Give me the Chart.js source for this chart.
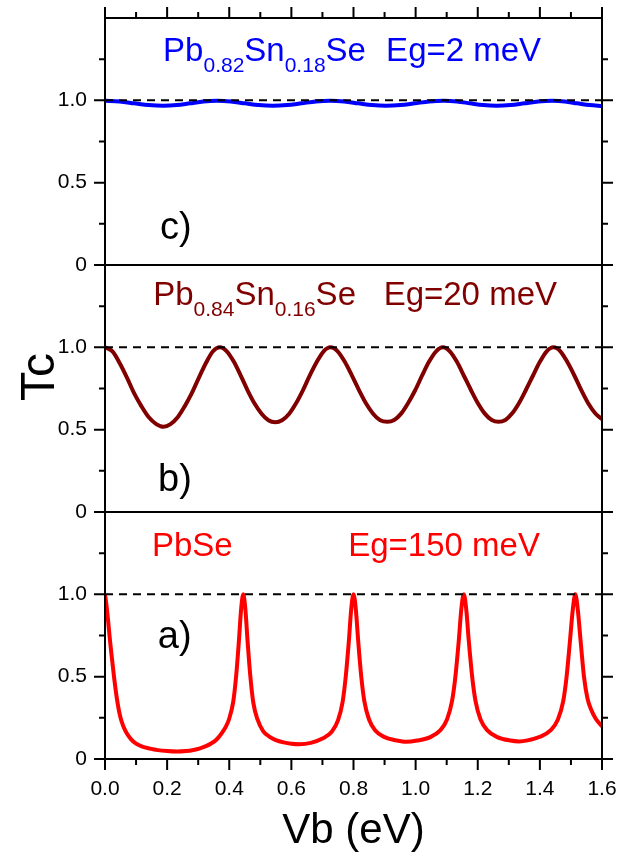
<!doctype html>
<html>
<head>
<meta charset="utf-8">
<script src="https://cdn.jsdelivr.net/npm/chart.js"></script>
<style>
html, body { margin: 0; padding: 0; background: #fff; }
#chart { display: block; }
</style>
</head>
<body>
<canvas id="chart" width="628" height="859"></canvas>
<script>
	// a) PbSe, Eg=150 meV
	var vbA = [0, 0.005, 0.01, 0.015, 0.02, 0.029, 0.038, 0.05, 0.06, 0.07, 0.085, 0.1, 0.12, 0.145, 0.17, 0.2, 0.231, 0.26, 0.285, 0.306, 0.325, 0.344, 0.36, 0.376, 0.39, 0.399, 0.413, 0.422, 0.431, 0.438, 0.445,
		0.452, 0.459, 0.468, 0.477, 0.491, 0.509, 0.53, 0.55, 0.575, 0.6, 0.625,
		0.6625, 0.7, 0.73, 0.75, 0.765, 0.775, 0.785, 0.7925, 0.8,
		0.8075, 0.815, 0.825, 0.835, 0.85, 0.87, 0.9, 0.9375, 0.97,
		1.005, 1.047, 1.079, 1.101, 1.117, 1.128, 1.139, 1.147, 1.155,
		1.163, 1.171, 1.182, 1.193, 1.209, 1.231, 1.263, 1.305, 1.333,
		1.36, 1.4, 1.435, 1.458, 1.475, 1.486, 1.497, 1.506, 1.514,
		1.522, 1.531, 1.542, 1.553, 1.565, 1.578, 1.59, 1.6];
	var tcA = [1.0, 0.93, 0.84, 0.74, 0.65, 0.5, 0.37, 0.25, 0.195, 0.157, 0.118, 0.093, 0.075, 0.063, 0.054, 0.048, 0.045, 0.048, 0.055, 0.065, 0.078, 0.097, 0.12, 0.157, 0.2, 0.24, 0.35, 0.5, 0.715, 0.905, 1.0,
		0.907, 0.715, 0.5, 0.347, 0.24, 0.17, 0.135, 0.115, 0.101, 0.093, 0.09,
		0.098, 0.124, 0.165, 0.234, 0.347, 0.5, 0.715, 0.907, 1.0,
		0.908, 0.72, 0.5, 0.35, 0.24, 0.173, 0.133, 0.113, 0.104,
		0.112, 0.133, 0.174, 0.24, 0.35, 0.5, 0.72, 0.908, 1.0,
		0.908, 0.72, 0.5, 0.35, 0.24, 0.174, 0.133, 0.112, 0.107,
		0.113, 0.135, 0.175, 0.24, 0.35, 0.5, 0.72, 0.908, 1.0,
		0.908, 0.72, 0.5, 0.37, 0.3, 0.25, 0.22, 0.198];

	// b) Pb0.84Sn0.16Se, Eg=20 meV
	var vbB = [0, 0.024, 0.047, 0.071, 0.094, 0.118, 0.141, 0.165, 0.188,
		0.211, 0.234, 0.256, 0.279, 0.302, 0.325, 0.347, 0.37,
		0.392, 0.415, 0.437, 0.459, 0.481, 0.504, 0.526, 0.548,
		0.57, 0.593, 0.615, 0.637, 0.659, 0.682, 0.704, 0.726,
		0.749, 0.772, 0.795, 0.818, 0.84, 0.863, 0.886, 0.909,
		0.931, 0.954, 0.976, 0.999, 1.021, 1.043, 1.066, 1.088,
		1.11, 1.133, 1.155, 1.178, 1.2, 1.222, 1.245, 1.267,
		1.289, 1.311, 1.333, 1.355, 1.378, 1.4, 1.422, 1.444,
		1.466, 1.488, 1.511, 1.533, 1.555, 1.578, 1.6];
	var tcB = [1.0, 0.975, 0.905, 0.815, 0.72, 0.64, 0.575, 0.534, 0.517,
		0.534, 0.575, 0.64, 0.72, 0.815, 0.905, 0.975, 1.0,
		0.976, 0.912, 0.828, 0.739, 0.66, 0.597, 0.557, 0.545,
		0.557, 0.597, 0.66, 0.739, 0.828, 0.912, 0.976, 1.0,
		0.976, 0.912, 0.828, 0.739, 0.66, 0.597, 0.557, 0.548,
		0.559, 0.599, 0.662, 0.741, 0.829, 0.912, 0.976, 1.0,
		0.976, 0.912, 0.829, 0.741, 0.662, 0.599, 0.559, 0.548,
		0.559, 0.599, 0.662, 0.741, 0.829, 0.912, 0.976, 1.0,
		0.976, 0.912, 0.829, 0.741, 0.662, 0.6, 0.564];

	// c) Pb0.82Sn0.18Se, Eg=2 meV
	var vbC = [0, 0.047, 0.094, 0.141, 0.188, 0.231, 0.274, 0.317, 0.36,
		0.405, 0.45, 0.495, 0.54, 0.586, 0.633, 0.679, 0.725,
		0.77, 0.815, 0.86, 0.905, 0.951, 0.998, 1.044, 1.09,
		1.133, 1.175, 1.218, 1.26, 1.305, 1.35, 1.395, 1.44,
		1.48, 1.52, 1.56, 1.6];
	var tcC = [0.997, 0.993, 0.982, 0.971, 0.967, 0.971, 0.982, 0.993, 0.997,
		0.993, 0.982, 0.971, 0.967, 0.971, 0.982, 0.993, 0.997,
		0.993, 0.982, 0.971, 0.967, 0.971, 0.982, 0.993, 0.997,
		0.993, 0.982, 0.971, 0.967, 0.971, 0.982, 0.993, 0.997,
		0.993, 0.982, 0.971, 0.966];

	// dashed Tc = 1 line
	var refX = [0, 1.6];
	var refY = [1, 1];

	var FONT = "'Liberation Sans', Arial, sans-serif";

	function pts(xs, ys) {
		return xs.map(function (x, i) { return {x: x, y: ys[i]}; });
	}

	// text labels, anchored in data units of each panel
	var notes = [
		{axis: 'yC', x: 0.187, y: 1.24, color: '#0000ff', parts: [['Pb'], ['0.82', 1], ['Sn'], ['0.18', 1], ['Se']]},
		{axis: 'yC', x: 0.905, y: 1.24, color: '#0000ff', parts: [['Eg=2 meV']]},
		{axis: 'yC', x: 0.177, y: 0.16, color: '#000', size: 38, parts: [['c)']]},
		{axis: 'yB', x: 0.155, y: 1.257, color: '#800000', parts: [['Pb'], ['0.84', 1], ['Sn'], ['0.16', 1], ['Se']]},
		{axis: 'yB', x: 0.897, y: 1.257, color: '#800000', parts: [['Eg=20 meV']]},
		{axis: 'yB', x: 0.171, y: 0.13, color: '#000', size: 38, parts: [['b)']]},
		{axis: 'yA', x: 0.151, y: 1.233, color: '#ff0000', parts: [['PbSe']]},
		{axis: 'yA', x: 0.783, y: 1.233, color: '#ff0000', parts: [['Eg=150 meV']]},
		{axis: 'yA', x: 0.17, y: 0.674, color: '#000', size: 38, parts: [['a)']]}
	];

	var frame = {
		id: 'frame',
		afterDraw: function (chart) {
			var ctx = chart.ctx, a = chart.chartArea, sc = chart.scales;
			ctx.save();
			ctx.strokeStyle = '#000';
			ctx.lineWidth = 2;
			ctx.beginPath();
			ctx.rect(a.left, a.top, a.right - a.left, a.bottom - a.top);
			['yA', 'yB'].forEach(function (id) {
				var y = sc[id].getPixelForValue(1.5);
				ctx.moveTo(a.left, y);
				ctx.lineTo(a.right, y);
			});
			for (var i = 0; i <= 16; i++) {
				var px = sc.x.getPixelForValue(i / 10);
				var len = i % 2 ? 6 : 11;
				ctx.moveTo(px, a.bottom);
				ctx.lineTo(px, a.bottom + len);
				ctx.moveTo(px, a.top);
				ctx.lineTo(px, a.top - len);
			}
			['yA', 'yB', 'yC'].forEach(function (id) {
				for (var j = 0; j <= 5; j++) {
					var py = sc[id].getPixelForValue(j * 0.25);
					var l = j % 2 ? 6 : 11;
					ctx.moveTo(a.left, py);
					ctx.lineTo(a.left - l, py);
					ctx.moveTo(a.right, py);
					ctx.lineTo(a.right + l, py);
				}
			});
			ctx.stroke();

			ctx.textBaseline = 'alphabetic';
			ctx.textAlign = 'left';
			notes.forEach(function (n) {
				var x = sc.x.getPixelForValue(n.x);
				var y = sc[n.axis].getPixelForValue(n.y);
				var size = n.size || 33;
				ctx.fillStyle = n.color;
				n.parts.forEach(function (p) {
					var sub = p[1];
					ctx.font = (sub ? 21 : size) + 'px ' + FONT;
					ctx.fillText(p[0], x, y + (sub ? 11 : 0));
					x += ctx.measureText(p[0]).width;
				});
			});

			// y title
			ctx.save();
			ctx.translate(a.left - 64, sc.yB.getPixelForValue(0.82));
			ctx.rotate(-Math.PI / 2);
			ctx.textAlign = 'center';
			ctx.textBaseline = 'middle';
			ctx.fillStyle = '#000';
			ctx.font = '48px ' + FONT;
			ctx.fillText('Tc', 0, 0);
			ctx.restore();
			ctx.restore();
		}
	};

	function panelAxis() {
		return {
			type: 'linear',
			position: 'left',
			stack: 'tc',
			stackWeight: 1,
			min: 0,
			max: 1.5,
			grid: {display: false, drawTicks: false},
			border: {display: false},
			ticks: {
				stepSize: 0.5,
				autoSkip: false,
				padding: 18,
				color: '#000',
				font: {size: 21},
				callback: function (v) { return v === 0 ? '0' : (v >= 1.5 ? '' : v.toFixed(1)); }
			},
			afterFit: function (s) { s.width = 105; s.paddingTop = 0; s.paddingBottom = 0; }
		};
	}

	Chart.defaults.font.family = FONT;

	var chart = new Chart(document.getElementById('chart'), {
		type: 'line',
		data: {
			datasets: [
				{data: pts(refX, refY), yAxisID: 'yA', borderColor: '#000', borderWidth: 2, borderDash: [8, 6], order: 0},
				{data: pts(refX, refY), yAxisID: 'yB', borderColor: '#000', borderWidth: 2, borderDash: [8, 6], order: 0},
				{data: pts(refX, refY), yAxisID: 'yC', borderColor: '#000', borderWidth: 2, borderDash: [8, 6], order: 0},
				{data: pts(vbA, tcA), yAxisID: 'yA', borderColor: '#ff0000', borderWidth: 4, order: 1},
				{data: pts(vbB, tcB), yAxisID: 'yB', borderColor: '#800000', borderWidth: 4, order: 1},
				{data: pts(vbC, tcC), yAxisID: 'yC', borderColor: '#0000ff', borderWidth: 4, order: 1}
			]
		},
		options: {
			responsive: false,
			animation: false,
			events: [],
			layout: {padding: {left: 0, right: 26, top: 18, bottom: 0}},
			elements: {
				point: {radius: 0},
				line: {cubicInterpolationMode: 'monotone', fill: false}
			},
			plugins: {legend: {display: false}, tooltip: {enabled: false}},
			scales: {
				x: {
					type: 'linear',
					position: 'bottom',
					min: 0,
					max: 1.6,
					grid: {display: false, drawTicks: false},
					border: {display: false},
					ticks: {
						stepSize: 0.2,
						autoSkip: false,
						maxRotation: 0,
						padding: 18,
						color: '#000',
						font: {size: 21},
						callback: function (v) { return v.toFixed(1); }
					},
					title: {display: true, text: 'Vb (eV)', color: '#000', font: {size: 42}, padding: {top: 0, bottom: 2}},
					afterFit: function (s) { s.height = 100; s.paddingLeft = 0; s.paddingRight = 0; }
				},
				yA: panelAxis(),
				yB: panelAxis(),
				yC: panelAxis()
			}
		},
		plugins: [frame]
	});
</script>
</body>
</html>
